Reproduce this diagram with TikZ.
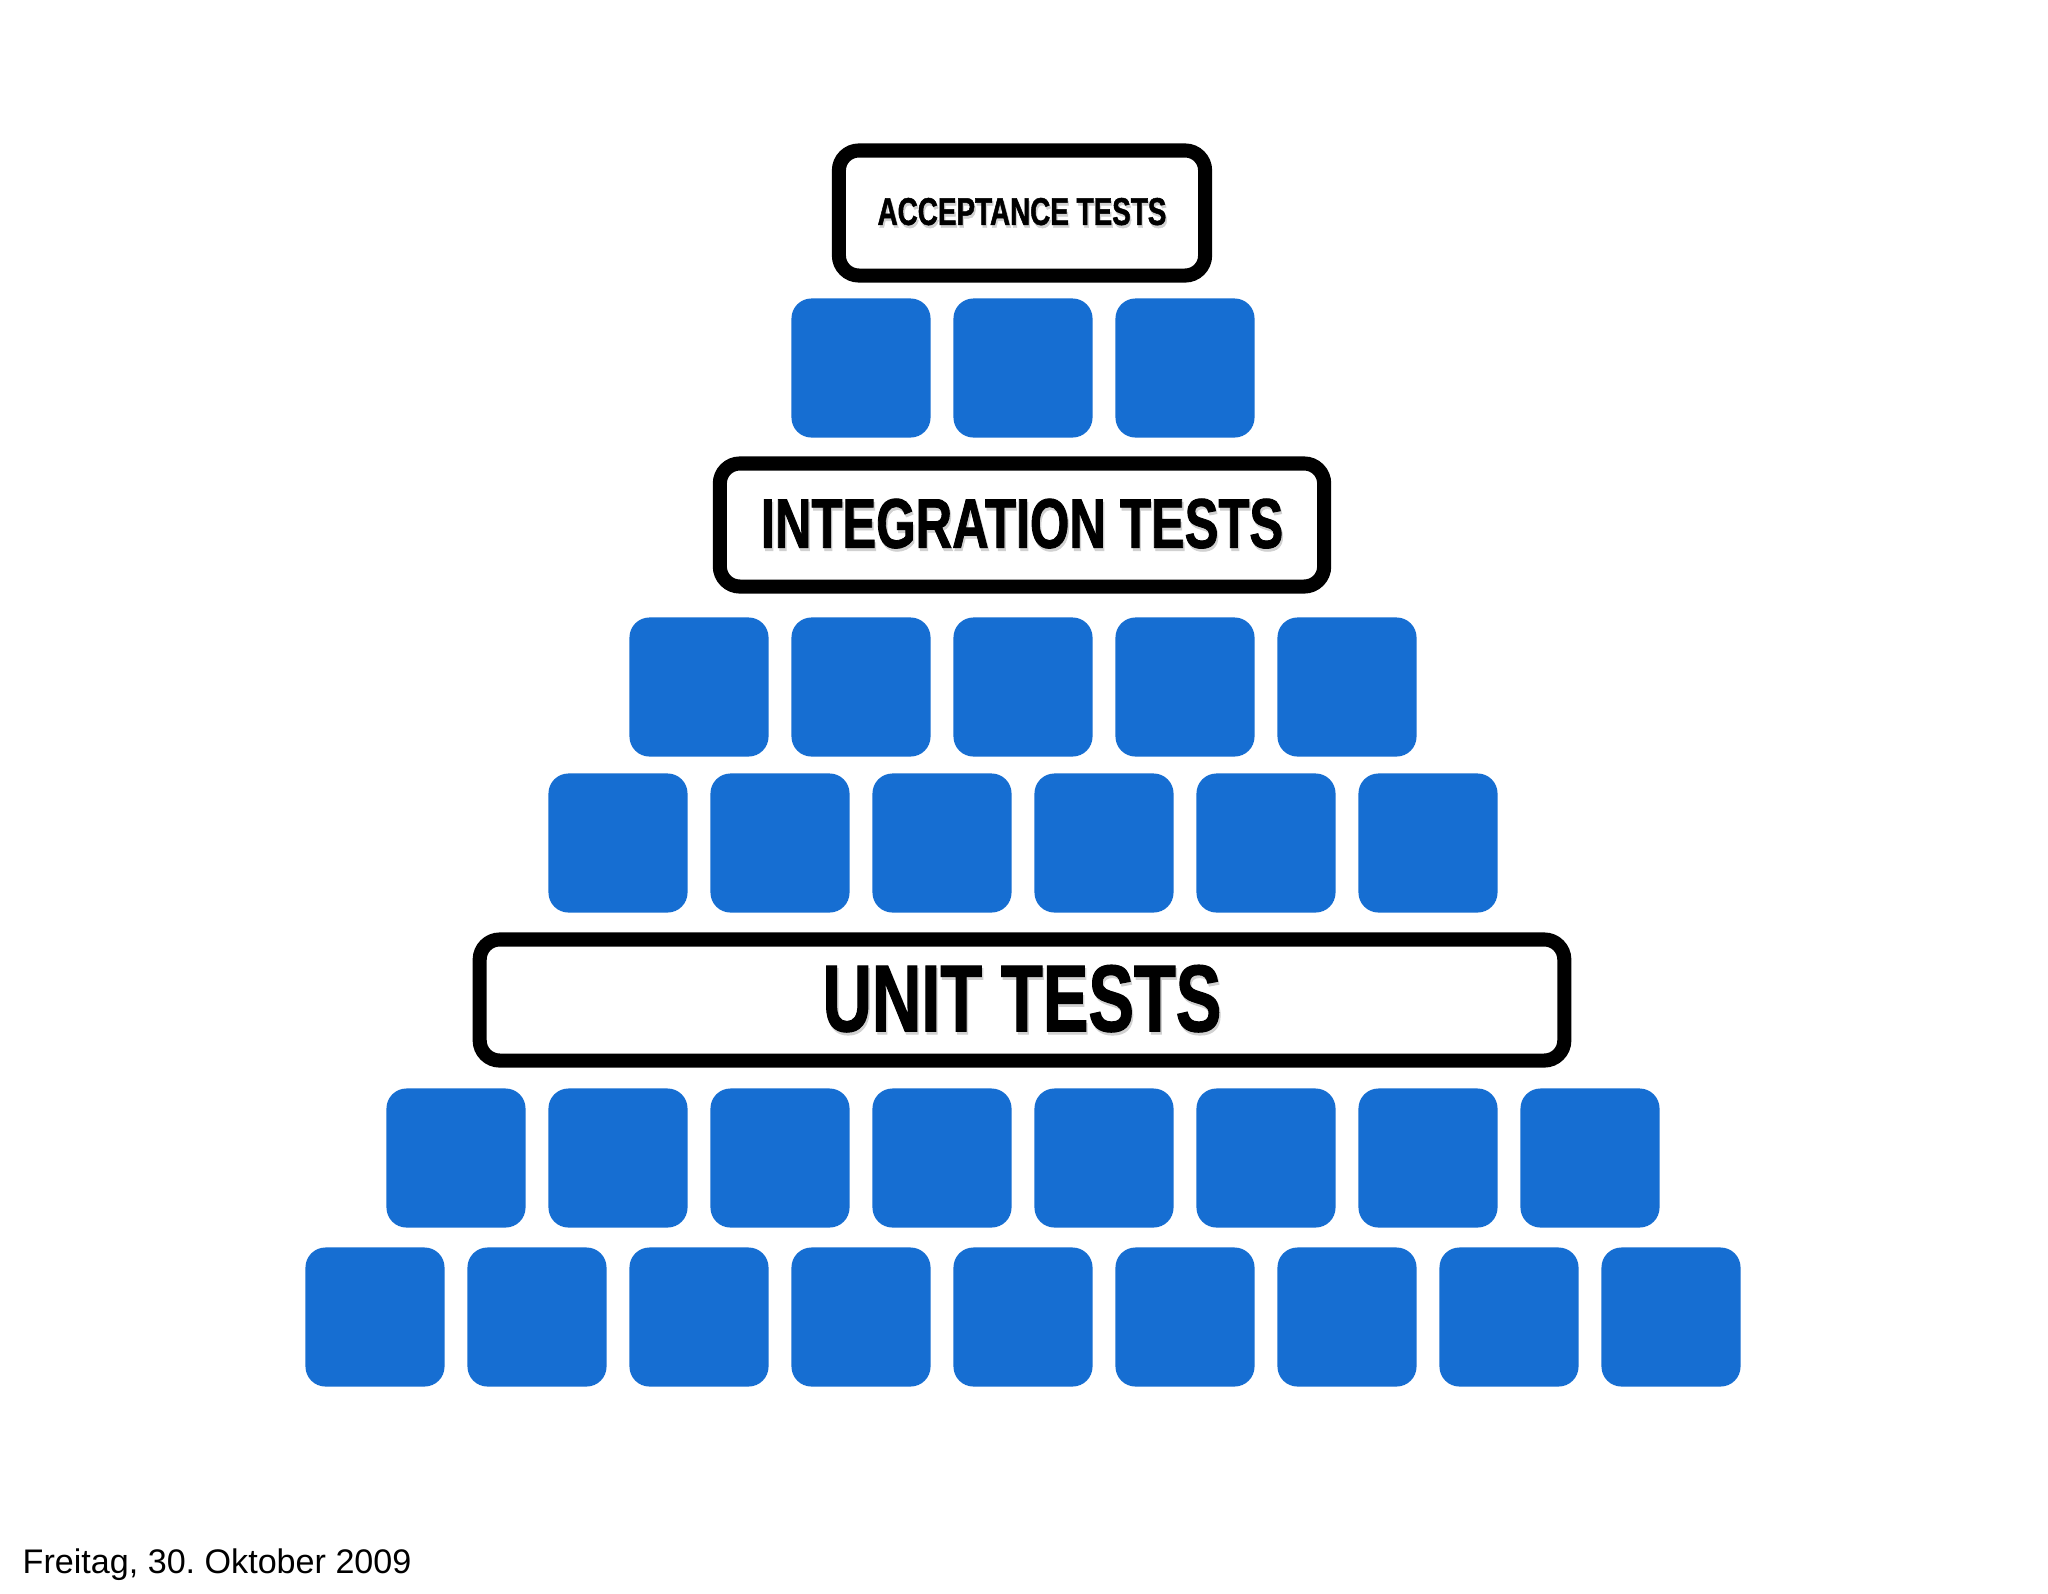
\documentclass[tikz,border=0pt]{standalone}
\usepackage{fontspec}
\usepackage{tikz}
\newfontfamily\layerfont[FakeStretch=0.72, FakeBold=1.2]{Liberation Sans}
\newfontfamily\datefont{Liberation Sans}
\definecolor{brickblue}{RGB}{22,110,210}
\newcommand{\shadowed}[1]{\makebox[0pt][l]{\hspace{0.4pt}\raisebox{-0.8pt}{\color{black!18}#1}}#1}
\frenchspacing

\tikzset{
  brick/.style={rectangle, rounded corners=0.2cm, fill=brickblue,
    minimum size=1.39cm, inner sep=0pt},
  layer/.style={rectangle, rounded corners=0.2cm, draw=black,
    line width=4pt, fill=white, inner sep=0pt},
}

\begin{document}
\begin{tikzpicture}[x=0.01cm, y=-0.01cm]
    \useasboundingbox[fill=white] (0,0) rectangle (2048,1593);

    %% the three layers
    \node[layer, minimum width=3.66cm, minimum height=1.25cm] (acceptance) at (1022,213)
      {\layerfont\bfseries\fontsize{11}{13}\selectfont\shadowed{ACCEPTANCE TESTS}};
    \node[layer, minimum width=6.04cm, minimum height=1.23cm] (integration) at (1022,525)
      {\layerfont\bfseries\fontsize{20}{24}\selectfont\shadowed{INTEGRATION TESTS}};
    \node[layer, minimum width=10.84cm, minimum height=1.21cm] (unit) at (1022,1000)
      {\layerfont\bfseries\fontsize{27}{32}\selectfont\shadowed{UNIT TESTS}};

    %% rows of bricks
    \foreach \i in {1,...,3}
      \node[brick] (c\i) at ({1023+(\i-2)*162},368) {};
    \foreach \i in {1,...,5}
      \node[brick] (e\i) at ({1023+(\i-3)*162},687) {};
    \foreach \i in {1,...,6}
      \node[brick] (f\i) at ({1023+(\i-3.5)*162},843) {};
    \foreach \i in {1,...,8}
      \node[brick] (h\i) at ({1023+(\i-4.5)*162},1158) {};
    \foreach \i in {1,...,9}
      \node[brick] (k\i) at ({1023+(\i-5)*162},1317) {};

    %% date
    \node[anchor=base west, inner sep=0pt] (date) at (22,1573)
      {\datefont\fontsize{9.7}{12}\selectfont Freitag, 30. Oktober 2009};

\end{tikzpicture}
\end{document}
